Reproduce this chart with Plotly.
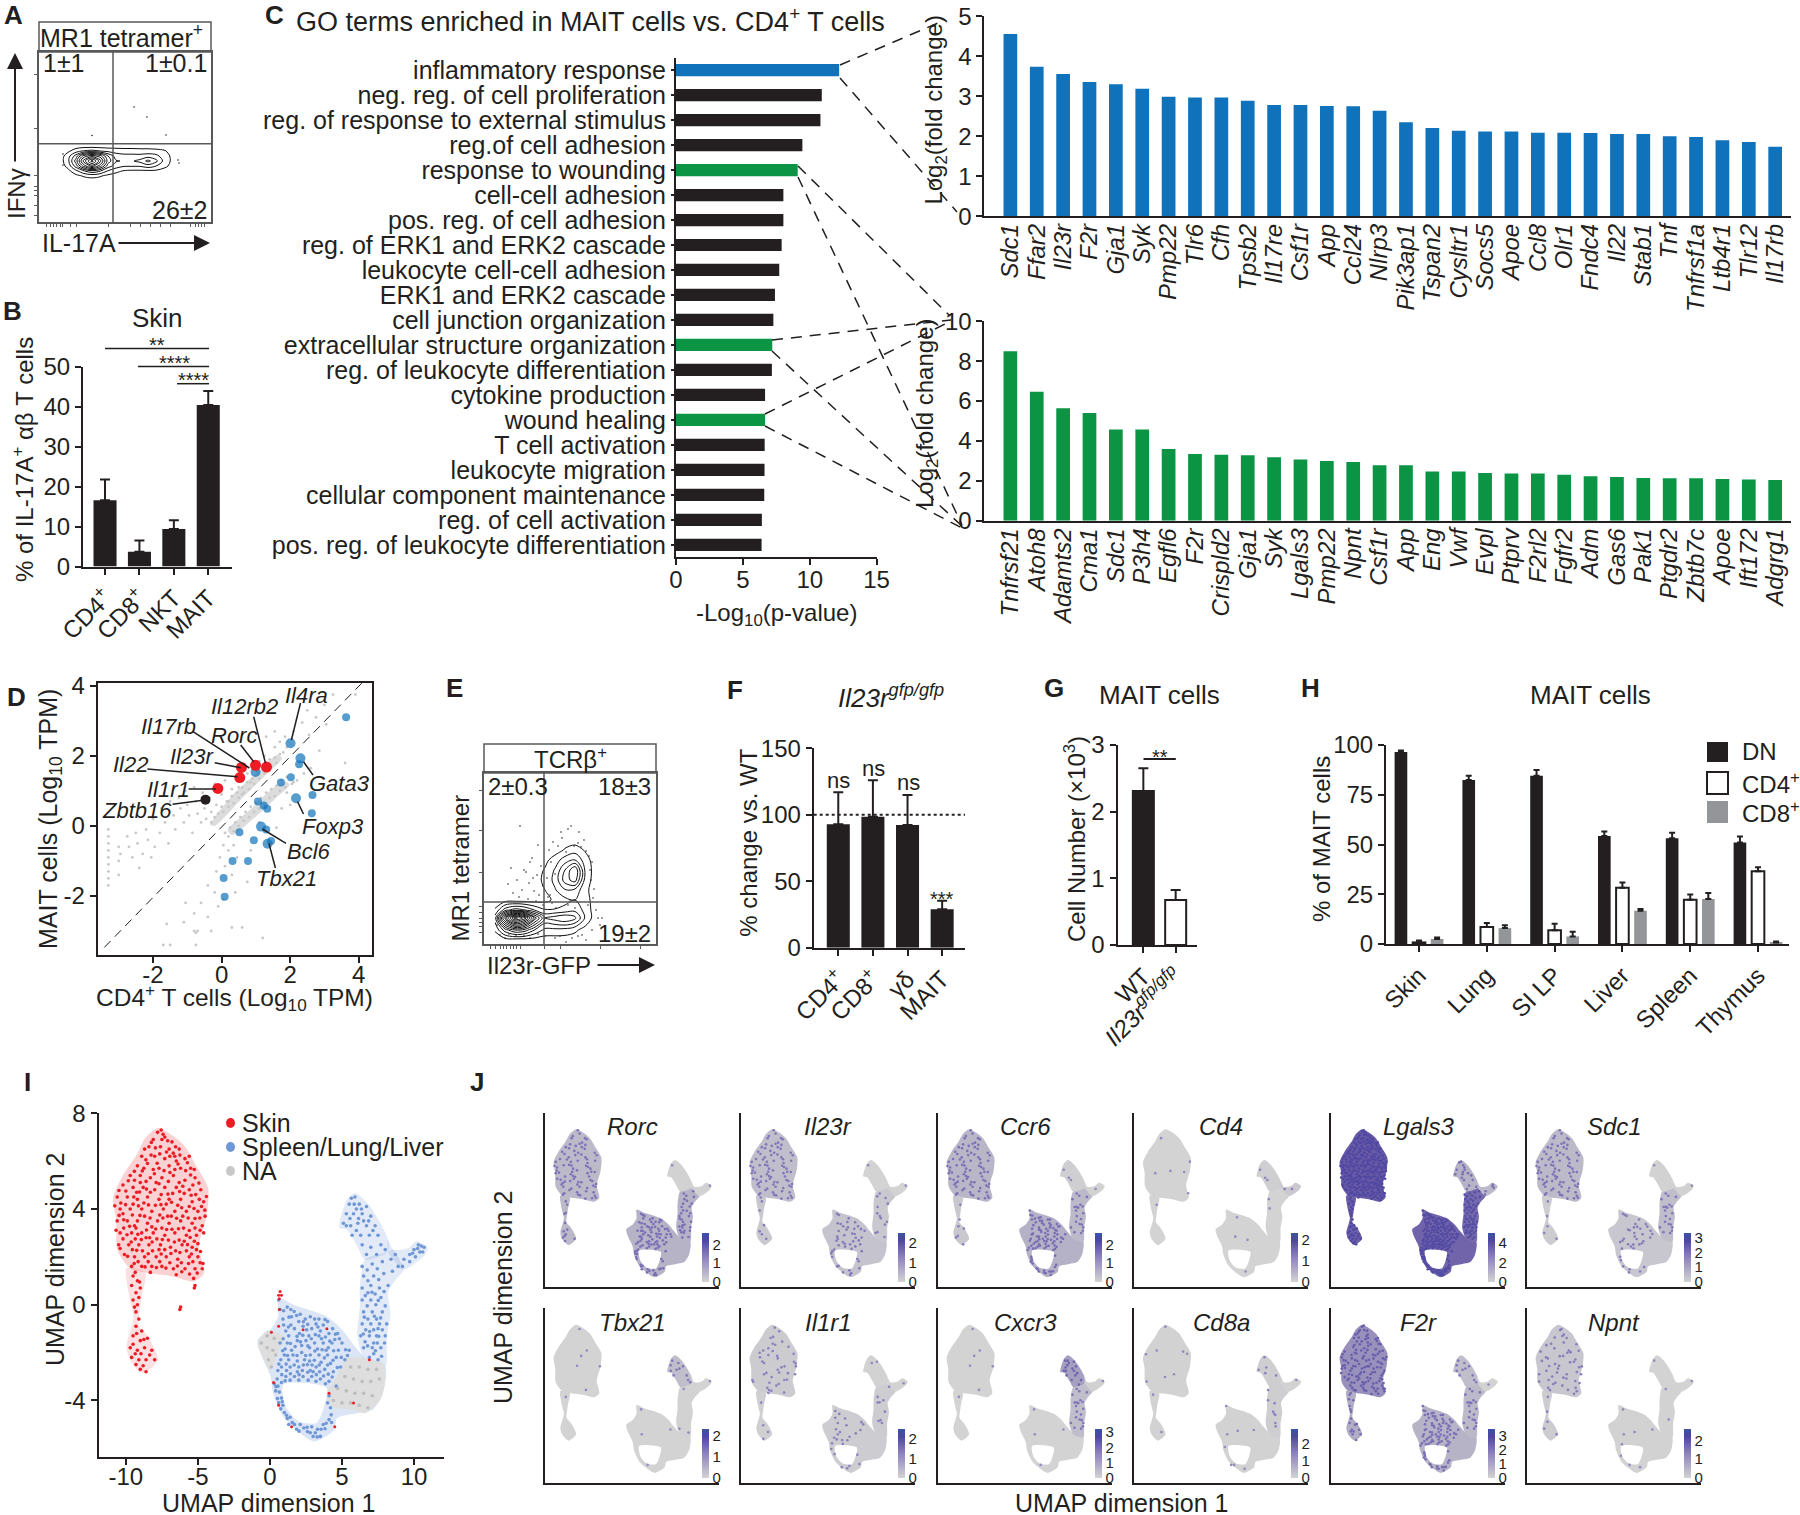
import plotly.graph_objects as go

W, H = 1800, 1515
FONT = "Liberation Sans"
INK = "#231f20"
BLUE = "#1072bb"
GREEN = "#0b9444"
RED = "#ed1c24"
UBLUE = "#6f97d6"
GRAY = "#c8c8c8"
GATE = "#58595b"

# ---------------- Panel A / E flow data (arbitrary flow units)
a_x = [60, 68, 76, 84, 92, 100, 108, 116, 124, 132, 140, 148, 156, 164, 172, 180]
a_y = [146, 151, 156, 161, 166, 171, 176, 181]
a_z = [
    [0] * 16,
    [0, .3, 1, 1.6, 1.8, 1.5, 1.2, 1.1, 1.0, 1.0, .9, .9, .8, .6, .2, 0],
    [0, 1, 3, 6, 7, 6, 3.5, 2, 1.8, 1.8, 1.8, 2, 1.8, 1, .3, 0],
    [0, 1.2, 4, 8, 11, 8, 4, 2.6, 2.4, 2.4, 2.8, 3.8, 2.8, 1.2, .3, 0],
    [0, .8, 3, 6, 8, 6, 3, 2, 1.6, 1.6, 1.6, 2, 1.5, .8, .2, 0],
    [0, .2, 1.2, 2.4, 3.2, 2.6, 1.4, .8, .4, .3, .3, .3, .3, .1, 0, 0],
    [0, 0, .2, .6, .8, .6, .2, 0, 0, 0, 0, 0, 0, 0, 0, 0],
    [0] * 16,
]
a_dot_x = [134, 147, 166, 92, 63, 63, 178, 179]
a_dot_y = [107, 117, 135, 135.5, 154, 165, 160, 163]

e_x = [495, 505, 515, 525, 535, 545, 555, 565, 575, 585, 595]
e_y = [840, 850, 860, 870, 880, 890, 900, 910, 918, 930, 940]
e_z = [
    [0] * 11,
    [0, 0, 0, 0, 0, 0, 0, .6, 1, .4, 0],
    [0, 0, 0, 0, 0, .2, 1, 2, 2.5, 1, 0],
    [0, 0, 0, 0, 0, .6, 1.6, 3.5, 5.5, 1.4, 0],
    [0, 0, 0, 0, 0, .8, 1.8, 4, 5, 1.2, 0],
    [0, 0, 0, 0, 0, .5, 1.4, 2.4, 2.2, .8, 0],
    [0, 0, 0, 0, 0, .2, .7, 1.2, 1.5, 1, 0],
    [.6, 3, 4, 3.5, 2.4, 1.6, 1.6, 1.8, 2.2, 1.2, 0],
    [2, 9, 14, 12, 7, 3.5, 4, 4.5, 3.8, 1.4, 0],
    [.6, 3, 4.5, 4, 2.4, 1.2, 1.2, 1.1, .7, .1, 0],
    [0] * 11,
]
e_dot_x = [520, 530, 538, 511, 517, 526, 533, 541, 508, 522, 529, 537, 513, 519, 534, 543, 528, 539, 524, 532,
           549, 553, 558, 566, 574, 581, 586, 589, 592, 551, 562, 571, 579, 590, 547, 555, 578, 584, 591, 594,
           561, 568, 550, 593, 588, 596, 598, 560, 572, 582, 505, 500, 497, 592, 600, 602, 586, 578, 566, 555,
           545, 538, 530, 524, 516, 509, 568, 556, 575, 548, 570, 577, 552, 543, 536]
e_dot_y = [826, 862, 845, 868, 880, 872, 878, 866, 884, 890, 883, 875, 893, 897, 891, 886, 899, 895, 870, 858,
           850, 842, 846, 852, 846, 847, 851, 856, 862, 862, 838, 826, 832, 870, 878, 874, 843, 840, 880, 889,
           832, 829, 895, 898, 905, 910, 918, 936, 938, 935, 938, 935, 925, 930, 925, 918, 940, 936, 942, 938,
           936, 934, 938, 936, 936, 934, 905, 908, 908, 897, 900, 902, 903, 905, 901]

# ---------------- Panel B
b_labels = ["CD4<sup>+</sup>", "CD8<sup>+</sup>", "NKT", "MAIT"]
b_values = [16.6, 3.7, 9.4, 40.5]
b_errors = [5.2, 2.8, 2.2, 3.5]

# ---------------- Panel C
go_terms = ["inflammatory response", "neg. reg. of cell proliferation", "reg. of response to external stimulus",
            "reg.of cell adhesion", "response to wounding", "cell-cell adhesion", "pos. reg. of cell adhesion",
            "reg. of ERK1 and ERK2 cascade", "leukocyte cell-cell adhesion", "ERK1 and ERK2 cascade",
            "cell junction organization", "extracellular structure organization",
            "reg. of leukocyte differentiation", "cytokine production", "wound healing", "T cell activation",
            "leukocyte migration", "cellular component maintenance", "reg. of cell activation",
            "pos. reg. of leukocyte differentiation"]
go_values = [12.2, 10.9, 10.8, 9.45, 9.1, 8.03, 8.03, 7.9, 7.72, 7.4, 7.28, 7.2, 7.17, 6.66, 6.66, 6.63, 6.62, 6.6,
             6.42, 6.4]
go_blue_terms = ["inflammatory response"]
go_green_terms = ["response to wounding", "extracellular structure organization", "wound healing"]

top_genes = ["Sdc1", "Ffar2", "Il23r", "F2r", "Gja1", "Syk", "Pmp22", "Tlr6", "Cfh", "Tpsb2", "Il17re", "Csf1r", "App",
             "Ccl24", "Nlrp3", "Pik3ap1", "Tspan2", "Cysltr1", "Socs5", "Apoe", "Ccl8", "Olr1", "Fndc4", "Il22",
             "Stab1", "Tnf", "Tnfrsf1a", "Ltb4r1", "Tlr12", "Il17rb"]
top_values = [4.56, 3.74, 3.56, 3.36, 3.3, 3.19, 2.99, 2.97, 2.97, 2.89, 2.78, 2.78, 2.76, 2.75, 2.64, 2.35, 2.21,
              2.14, 2.12, 2.12, 2.09, 2.09, 2.08, 2.06, 2.06, 2.0, 1.98, 1.9, 1.86, 1.74]
bot_genes = ["Tnfrsf21", "Atoh8", "Adamts2", "Cma1", "Sdc1", "P3h4", "Egfl6", "F2r", "Crispld2", "Gja1", "Syk",
             "Lgals3", "Pmp22", "Npnt", "Csf1r", "App", "Eng", "Vwf", "Evpl", "Ptprv", "F2rl2", "Fgfr2", "Adm", "Gas6",
             "Pak1", "Ptgdr2", "Zbtb7c", "Apoe", "Ift172", "Adgrg1"]
bot_values = [8.5, 6.46, 5.64, 5.4, 4.58, 4.58, 3.6, 3.35, 3.31, 3.29, 3.19, 3.07, 2.99, 2.94, 2.78, 2.78, 2.47, 2.47,
              2.39, 2.37, 2.37, 2.31, 2.23, 2.19, 2.15, 2.13, 2.13, 2.1, 2.07, 2.05]

# ---------------- Panel D
d_blue = [(3.63, 3.10), (2.01, 2.36), (2.30, 1.93), (2.26, 1.76), (2.02, 1.39), (1.73, 1.24), (.99, 1.54), (2.65, .88),
          (2.17, .79), (2.63, .36), (1.06, .70), (1.23, .58), (1.33, .49), (1.15, -.02), (1.30, -.10), (.52, -.18),
          (.94, -.41), (1.44, -.43), (1.34, -.51), (.32, -1.0), (.77, -1.0), (.06, -1.49), (.09, -2.02)]
d_blue_size = [8, 10, 10, 8, 8, 8, 10, 8, 10, 8, 8, 8, 8, 10, 8, 8, 8, 8, 10, 8, 8, 8, 8]
d_red = [(.58, 1.67), (.99, 1.73), (1.31, 1.68), (.53, 1.38), (-.11, 1.07)]
d_black = [(-.47, .75)]
d_band_up = [(-.33, .03), (.37, .93), (1.13, 1.6), (1.63, 2.03), (1.76, 1.93), (1.25, 1.42), (.56, .75), (-.2, 0)]
d_band_lo = [(.18, -.11), (.87, .5), (1.5, 1.08), (1.88, 1.27), (1.98, 1.17), (1.63, .84), (1.0, .27), (.3, -.26)]
d_band_dots = [(-.3, .1), (-.2, .25), (-.1, .35), (.0, .55), (.05, .4), (.15, .7), (.2, .55), (.3, .85), (.35, .65),
               (.45, .95), (.5, .8), (.6, 1.1), (.65, .95), (.75, 1.25), (.8, 1.05), (.9, 1.35), (.95, 1.2),
               (1.05, 1.55), (1.1, 1.35), (1.2, 1.65), (1.25, 1.5), (1.35, 1.75), (1.45, 1.7), (1.55, 1.95),
               (1.6, 1.8), (1.7, 2.05), (1.8, 2.1), (1.9, 2.25),
               (.1, -.2), (.25, -.05), (.2, -.3), (.4, .1), (.35, -.15), (.55, .25), (.5, 0), (.7, .4), (.65, .15),
               (.85, .55), (.8, .25), (1.0, .65), (.95, .4), (1.15, .8), (1.1, .5), (1.3, .95), (1.25, .65),
               (1.45, 1.05), (1.4, .8), (1.6, 1.15), (1.55, .85), (1.75, 1.3), (1.7, 1.0), (1.9, 1.4), (1.85, 1.1),
               (2.05, 1.2), (2.2, 1.3)]
d_gray = [(-3.3, -.1), (-3.3, -.3), (-3.3, -.5), (-3.3, -.7), (-3.3, -.9), (-3.3, -1.1), (-3.3, -1.3), (-3.3, -1.5),
          (-3.3, -1.7), (-3.0, -.6), (-3.0, -1.0), (-3.0, -1.4), (-2.95, -.8), (-2.75, -.3), (-2.7, -.6), (-2.6, -.9),
          (-2.5, -.2), (-2.45, -.5), (-2.4, -1.2), (-2.3, -.8), (-2.2, -.1), (-2.15, -.4), (-2.05, -.9), (-2.0, .2),
          (-1.95, -.6), (-1.8, -.2), (-1.75, .5), (-1.65, .1), (-1.55, -.5), (-1.5, .7), (-1.4, .3), (-1.35, -.1),
          (-1.25, .8), (-1.2, .5), (-1.1, .1), (-1.05, 1.0), (-1.0, .6), (-.95, .3), (-.85, -.2), (-.8, 1.1),
          (-.75, .7), (-.7, .35), (-.6, .1), (-.55, .95), (-.5, .5), (-.45, .2), (-.35, .8), (-.3, .4),
          (-.2, 1.2), (-.15, .6), (0, .9), (.1, 1.3), (.2, .7), (.3, 1.05), (.5, 1.1), (.6, .9), (.75, 1.5),
          (.85, 1.25), (1.1, 1.85), (1.25, 2.0), (1.4, 1.9), (1.55, 2.25), (1.7, 2.4), (1.3, 2.55), (1.55, 2.7),
          (1.85, 2.55), (2.1, 2.7), (2.35, 2.95), (2.55, 2.6), (2.75, 3.1), (3.0, 3.45), (3.25, 3.75), (3.9, 3.75),
          (3.05, 2.9), (2.5, 3.3),
          (.05, -.55), (-.05, -.9), (.2, -.7), (.35, -.55), (.45, -.9), (-.15, -1.3), (.1, -1.15), (.3, -1.4),
          (-.4, -1.7), (-.2, -1.9), (-.1, -2.3), (.05, -2.1), (-.6, -2.2), (-.8, -2.5), (-1.05, -2.2), (-1.1, -2.75),
          (-.8, -3.0), (-.75, -3.05), (-.7, -3.0), (-.3, -3.0), (.3, -2.9), (.6, -2.9), (1.2, -3.2), (-1.7, -3.4),
          (-1.5, -3.4), (-.75, -3.4), (-1.6, -2.8), (-.4, -2.6), (.4, -1.9), (.75, -1.6), (.85, -.7), (1.6, -.05),
          (1.1, .1), (1.75, .5), (2.0, .6), (2.1, 1.25), (2.4, 1.5), (2.6, 1.65), (1.9, .95), (2.85, 2.15), (3.6, 1.8)]

# ---------------- Panel F, G, H
f_labels = ["CD4<sup>+</sup>", "CD8<sup>+</sup>", "γδ", "MAIT"]
f_values = [92.8, 98.6, 92.3, 29.0]
f_errors = [24.1, 27.4, 22.6, 6.4]
g_labels = ["WT", "<i>Il23r<sup>gfp/gfp</sup></i>"]
g_values = [2.31, .675]
g_errors = [.34, .15]
h_tissues = ["Skin", "Lung", "SI LP", "Liver", "Spleen", "Thymus"]
h_dn = [96.5, 82.4, 84.6, 54.3, 53.2, 51.0]
h_dn_err = [.7, 2.2, 2.9, 2.2, 2.7, 3.0]
h_cd4 = [.8, 8.5, 6.9, 28.3, 22.2, 36.6]
h_cd4_err = [.9, 2.0, 3.3, 2.6, 2.7, 2.0]
h_cd8 = [2.5, 8.0, 3.8, 16.7, 22.6, .8]
h_cd8_err = [.8, 1.4, 2.4, .9, 3.0, .4]

# ---------------- Panel I / J: UMAP outlines
um_skin = [(-7.77, 7.38), (-6.52, 6.96), (-5.82, 6.55), (-5.11, 5.79), (-4.29, 4.87), (-4.40, 3.69), (-4.93, 2.44),
           (-4.57, 1.32), (-5.28, .97), (-6.70, 1.18), (-8.48, 1.32), (-9.72, 1.53), (-10.6, 2.3), (-10.67, 3.55),
           (-10.89, 4.46), (-10.25, 5.36), (-9.18, 6.34), (-8.65, 6.96)]
um_tail = [(-9.96, 1.53), (-8.65, 1.32), (-8.9, .35), (-9.0, -.14), (-9.11, -.84), (-8.48, -1.32), (-7.77, -2.30),
           (-8.83, -2.86), (-9.72, -2.30), (-9.96, -1.75), (-9.61, -.91), (-9.47, -.49), (-9.72, .21)]
um_body = [(.57, .28), (1.63, 0), (3.94, -.49), (5.0, -1.04), (5.71, -1.6), (6.77, -2.3), (8.01, -2.58), (7.84, -3.69),
           (7.13, -4.39), (6.06, -4.53), (4.65, -4.74), (4.47, -5.22), (3.05, -5.71), (1.81, -5.22), (.92, -4.67),
           (.21, -3.69), (.04, -2.99), (-.67, -2.02), (-.85, -1.46), (.04, -1.04), (.57, -.49)]
um_hole = [(.92, -3.34), (2.52, -3.27), (3.94, -3.48), (3.76, -4.25), (3.23, -4.94), (1.99, -4.87), (1.1, -4.25)]
um_stem = [(6.6, -2.3), (6.06, -1.32), (6.24, -.07), (6.24, .77), (6.6, 1.88), (8.19, 2.2), (8.55, 2.3), (9.26, 1.46),
           (8.72, 1.04), (8.19, .49), (8.37, -.35), (8.12, -1.32), (8.01, -2.58)]
um_top = [(6.6, 1.88), (6.06, 2.44), (5.35, 3.13), (4.82, 3.2), (5.35, 4.39), (5.89, 4.67), (6.77, 4.25), (7.66, 3.41),
          (8.19, 2.72), (8.19, 2.2)]
um_branch = [(8.19, 2.2), (8.19, 2.72), (8.55, 2.3), (9.61, 2.37), (10.14, 2.65), (10.96, 2.37), (10.67, 2.02),
             (9.26, 1.46), (8.55, 1.9)]
um_gray_left = [(-.85, -1.6), (-.14, -1.07), (.92, -1.32), (.57, -2.02), (.04, -2.72), (-.5, -2.16)]
um_gray_right = [(5.35, -2.23), (7.84, -2.44), (8.01, -3.13), (7.66, -3.97), (6.6, -4.53), (5.71, -4.39), (4.29, -4.25),
                 (3.94, -3.69), (4.65, -2.99)]

dots_skin = [(-7.8, 7.2), (-7.3, 7.0), (-8.1, 6.9), (-6.8, 6.8), (-8.4, 6.6), (-7.6, 6.6), (-7.0, 6.5), (-6.3, 6.5),
             (-8.9, 6.2), (-8.0, 6.2), (-7.3, 6.1), (-6.6, 6.2), (-5.9, 6.1), (-9.2, 5.8), (-8.5, 5.9), (-7.7, 5.7),
             (-7.0, 5.8), (-6.2, 5.7), (-5.5, 5.7), (-9.7, 5.4), (-9.0, 5.4), (-8.3, 5.3), (-7.5, 5.3), (-6.7, 5.4),
             (-5.9, 5.2), (-5.2, 5.3), (-10.2, 5.0), (-9.5, 4.9), (-8.8, 4.9), (-8.0, 4.8), (-7.3, 4.9), (-6.5, 4.9),
             (-5.6, 4.8), (-4.8, 4.8), (-10.6, 4.5), (-9.9, 4.5), (-9.2, 4.4), (-8.5, 4.5), (-7.7, 4.4), (-7.0, 4.4),
             (-6.2, 4.4), (-5.4, 4.3), (-4.6, 4.3), (-10.4, 4.0), (-9.7, 4.0), (-8.9, 4.0), (-8.2, 3.9), (-7.4, 4.0),
             (-6.6, 3.9), (-5.8, 3.9), (-5.0, 3.9), (-4.5, 3.7), (-10.6, 3.5), (-9.9, 3.5), (-9.2, 3.5), (-8.5, 3.4),
             (-7.8, 3.5), (-7.0, 3.4), (-6.2, 3.5), (-5.4, 3.4), (-4.7, 3.3), (-10.4, 3.0), (-9.6, 3.0), (-8.9, 3.0),
             (-8.1, 3.0), (-7.3, 2.9), (-6.6, 3.0), (-5.8, 2.9), (-5.1, 2.9), (-10.5, 2.5), (-9.8, 2.5), (-9.1, 2.5),
             (-8.4, 2.5), (-7.6, 2.5), (-6.9, 2.4), (-6.1, 2.5), (-5.4, 2.4), (-10.1, 2.1), (-9.4, 2.0), (-8.7, 2.0),
             (-7.9, 2.0), (-7.2, 2.0), (-6.4, 1.9), (-5.6, 2.0), (-5.0, 2.0), (-9.6, 1.6), (-8.9, 1.6), (-8.2, 1.6),
             (-7.5, 1.6), (-6.7, 1.5), (-5.9, 1.5), (-5.2, 1.5), (-4.7, 1.5), (-8.3, 1.35), (-6.5, 1.25), (-5.3, 1.1),
             (-7.5, 6.9), (-6.5, 6.0), (-8.7, 6.5), (-9.0, 5.1), (-7.9, 5.1), (-6.3, 5.1), (-4.9, 4.4), (-9.5, 4.2),
             (-7.1, 3.7), (-5.6, 3.1), (-8.6, 2.8), (-6.3, 2.7), (-7.7, 2.3), (-9.3, 3.2), (-10.2, 3.8), (-4.6, 3.0),
             (-7.55, 7.3), (-7.95, 6.55), (-7.1, 6.85), (-6.55, 6.6), (-8.25, 6.25), (-7.65, 6.3), (-6.95, 6.2),
             (-6.25, 6.25), (-5.6, 6.2), (-8.75, 5.7), (-8.1, 5.65), (-7.35, 5.6), (-6.6, 5.65), (-5.85, 5.6),
             (-5.25, 5.65), (-9.4, 5.2), (-8.6, 5.15), (-7.7, 5.05), (-7.05, 5.15), (-6.05, 4.95), (-5.35, 5.0),
             (-10.0, 4.75), (-9.25, 4.7), (-8.3, 4.7), (-7.55, 4.6), (-6.75, 4.65), (-5.95, 4.65), (-5.15, 4.6),
             (-10.35, 4.25), (-9.45, 4.5), (-8.75, 4.25), (-7.95, 4.15), (-7.2, 4.2), (-6.4, 4.15), (-5.6, 4.1),
             (-4.75, 4.1), (-10.15, 3.55), (-9.55, 3.75), (-8.7, 3.7), (-7.65, 3.75), (-6.85, 3.7), (-6.05, 3.7),
             (-5.2, 3.6), (-10.15, 3.2), (-9.4, 3.3), (-8.2, 3.25), (-7.5, 3.2), (-6.8, 3.15), (-6.0, 3.2), (-5.2, 3.2),
             (-10.2, 2.75), (-9.35, 2.75), (-8.35, 2.8), (-7.85, 2.75), (-7.05, 2.7), (-5.95, 2.65), (-5.25, 2.65),
             (-9.55, 2.3), (-8.85, 2.25), (-8.15, 2.25), (-7.3, 2.3), (-6.55, 2.25), (-5.8, 2.25), (-5.1, 2.3),
             (-9.15, 1.8), (-8.45, 1.8), (-7.65, 1.8), (-6.95, 1.75), (-6.15, 1.75), (-5.35, 1.8), (-4.85, 1.75),
             (-7.42, 7.12), (-8.23, 6.78), (-6.71, 6.33), (-7.18, 6.38), (-8.61, 6.05), (-5.73, 5.93), (-6.38, 5.88),
             (-7.83, 5.91), (-9.41, 5.57), (-8.86, 5.59), (-8.02, 5.47), (-6.94, 5.52), (-5.51, 5.42), (-4.93, 5.08),
             (-9.83, 5.18), (-10.48, 4.77), (-9.05, 4.71), (-8.57, 4.83), (-7.08, 4.62), (-6.27, 4.73), (-5.47, 4.57),
             (-4.41, 4.52), (-10.77, 4.13), (-10.02, 4.18), (-9.13, 4.13), (-8.43, 4.17), (-7.57, 4.18), (-6.83, 4.28),
             (-6.13, 4.05), (-5.27, 4.02), (-4.52, 3.95), (-10.47, 3.73), (-9.74, 3.28), (-9.02, 3.73), (-8.32, 3.62),
             (-7.43, 3.62), (-6.48, 3.61), (-5.68, 3.62), (-4.87, 3.62), (-10.68, 3.11), (-9.92, 2.92), (-9.17, 2.94),
             (-8.57, 3.12), (-7.93, 3.16), (-7.17, 3.14), (-6.35, 3.17), (-5.54, 2.81), (-4.85, 3.11), (-10.4, 2.35),
             (-9.63, 2.62), (-8.93, 2.72), (-8.18, 2.62), (-7.47, 2.72), (-6.63, 2.62), (-5.72, 2.51), (-5.0, 2.55),
             (-9.88, 2.02), (-9.25, 2.27), (-8.45, 2.13), (-7.55, 2.12), (-6.87, 2.14), (-6.25, 2.18), (-5.45, 2.12),
             (-4.82, 2.22), (-9.42, 1.72), (-8.67, 1.58), (-7.88, 1.55), (-7.22, 1.53), (-6.42, 1.62), (-5.65, 1.72),
             (-5.05, 1.32), (-4.65, 1.72), (-6.12, 1.38), (-5.58, 1.28)]
dots_tail = [(-9.5, 1.2), (-9.2, 1.0), (-9.6, .8), (-9.3, .5), (-9.0, .7), (-9.1, .3), (-9.5, .2), (-9.2, 0),
             (-9.3, -.3), (-9.1, -.6), (-9.3, -.9), (-8.9, -1.1), (-9.5, -1.3), (-9.0, -1.5), (-8.5, -1.4),
             (-9.7, -1.8), (-9.2, -1.9), (-8.7, -1.8), (-8.2, -1.9), (-9.6, -2.2), (-9.1, -2.3), (-8.6, -2.3),
             (-8.0, -2.3), (-9.0, -2.7), (-8.6, -2.8), (-9.3, -2.5), (-9.35, 1.35), (-9.05, .95), (-9.4, -.1),
             (-9.25, -1.2), (-8.75, -1.45), (-9.5, -1.65), (-8.95, -2.05), (-8.35, -2.1), (-9.35, -2.05), (-8.8, -2.55)]
dots_body = [(.6, .2), (1.2, -.1), (.9, -.6), (1.5, -.5), (2.1, -.4), (2.8, -.5), (3.4, -.6), (4.0, -.7), (1.1, -1.1),
             (1.7, -1.0), (2.3, -.9), (2.9, -1.0), (3.5, -1.1), (4.1, -1.2), (4.7, -1.2), (1.2, -1.6), (1.9, -1.5),
             (2.5, -1.5), (3.1, -1.6), (3.7, -1.6), (4.3, -1.6), (5.0, -1.6), (5.5, -1.9), (1.0, -2.1), (1.6, -2.1),
             (2.2, -2.0), (2.8, -2.1), (3.4, -2.1), (4.0, -2.1), (4.6, -2.2), (5.2, -2.3), (.8, -2.6), (1.4, -2.6),
             (2.0, -2.6), (2.6, -2.5), (3.2, -2.6), (3.8, -2.7), (4.4, -2.8), (.5, -3.1), (1.1, -3.0), (1.7, -3.0),
             (2.3, -3.0), (2.9, -3.0), (3.5, -3.1), (4.1, -3.2), (.4, -3.6), (.8, -3.9), (.6, -4.1), (1.0, -4.5),
             (1.4, -4.7), (1.7, -5.0), (2.1, -5.0), (2.6, -5.3), (3.0, -5.5), (3.3, -5.2), (3.7, -5.0), (4.1, -4.8),
             (4.2, -4.3), (4.1, -3.8), (1.3, -1.3), (2.0, -.7), (2.7, -1.3), (3.4, -1.3), (1.5, -1.9), (2.4, -2.3),
             (3.0, -2.8), (1.9, -2.8), (.7, -1.6), (.7, -.2), (4.6, -3.4), (4.9, -2.6), (3.9, -1.9), (.3, -3.3),
             (2.9, -5.1), (3.5, -5.5), (1.3, -5.0), (.9, -4.2), (.55, -3.4), (2.2, -1.7), (3.2, -.8),
             (.95, -.25), (1.45, -.2), (1.85, -.45), (2.45, -.6), (3.1, -.6), (3.7, -.85), (4.35, -1.0), (.95, -.85),
             (1.45, -.85), (2.05, -1.2), (2.55, -1.05), (3.15, -1.25), (3.85, -1.35), (4.5, -1.45), (1.05, -1.85),
             (1.75, -1.75), (2.75, -1.8), (3.3, -1.85), (4.05, -1.8), (4.75, -1.9), (.75, -2.3), (1.3, -2.3), (1.9, -2.35),
             (2.75, -2.35), (3.55, -2.4), (4.2, -2.45), (4.95, -2.2), (.55, -2.75), (1.15, -2.75), (2.25, -2.75),
             (2.8, -2.75), (3.45, -2.8), (4.05, -2.9), (.8, -3.25), (1.4, -3.15), (2.0, -3.15), (2.65, -3.15),
             (3.2, -3.2), (3.85, -3.3), (.65, -3.65), (.75, -4.35), (1.2, -4.75), (1.85, -5.2), (2.35, -5.15),
             (2.8, -5.35), (3.15, -5.35), (3.55, -5.2), (3.9, -4.95), (4.25, -4.6), (4.0, -4.1),
             (1.32, -.52), (1.68, -.28), (2.32, -.71), (2.62, -.82), (3.33, -.93), (3.82, -.62), (4.55, -1.23),
             (1.28, -.93), (1.88, -1.32), (2.28, -1.28), (2.87, -1.42), (3.58, -1.42), (4.15, -1.52), (4.82, -1.42),
             (.92, -1.42), (1.42, -1.62), (2.12, -1.55), (2.63, -1.72), (3.12, -1.93), (3.62, -1.88), (4.42, -1.92),
             (5.25, -1.88), (.88, -1.92), (1.22, -2.12), (1.88, -2.12), (2.48, -2.12), (3.08, -2.32), (3.78, -2.22),
             (4.38, -2.32), (5.38, -2.12), (.62, -2.48), (1.12, -2.48), (1.68, -2.52), (2.32, -2.52), (2.92, -2.52),
             (3.42, -2.52), (4.0, -2.52), (4.68, -2.62), (.82, -2.92), (1.42, -2.88), (2.02, -2.92), (2.62, -2.82),
             (3.22, -2.92), (3.72, -2.98), (4.32, -3.02), (.42, -3.42), (1.05, -3.18), (.52, -3.92), (.85, -4.05),
             (1.15, -4.62), (1.55, -4.92), (2.02, -5.28), (2.58, -5.12), (3.28, -5.52), (3.82, -5.18), (4.28, -4.92)]
dots_stem = [(6.4, 1.6), (7.1, 1.7), (7.8, 1.8), (8.4, 1.9), (6.5, 1.2), (7.2, 1.2), (7.9, 1.3), (8.5, 1.4),
             (6.4, .7), (7.0, .8), (7.6, .7), (8.2, .8), (6.4, .2), (7.0, .2), (7.7, .3), (6.5, -.3), (7.1, -.3),
             (7.8, -.3), (6.4, -.8), (7.0, -.8), (7.6, -.8), (8.1, -.8), (6.3, -1.3), (6.9, -1.3), (7.4, -1.3),
             (8.0, -1.3), (6.5, -1.8), (7.1, -1.8), (7.7, -1.8), (6.9, -2.2), (7.5, -2.3), (6.8, .5), (7.4, -.6),
             (7.2, -1.6), (7.5, -1.0), (6.8, -.6), (6.75, 1.45), (7.45, 1.5), (6.8, 1.0), (7.55, 1.05), (7.3, .45),
             (6.75, -.05), (7.35, 0), (8.0, -.05), (6.65, -1.05), (7.2, -1.05), (7.8, -1.05), (6.6, -1.55), (7.45, -1.6),
             (7.95, -1.6), (7.2, -2.05), (7.75, -2.15), (7.08, .52), (7.52, .18), (6.62, .38), (7.92, .55), (7.25, -.48),
             (6.55, -.52), (7.68, -.55), (6.92, -1.12), (7.55, -1.32), (6.78, -1.72), (7.32, -1.92), (6.48, -1.22)]
dots_top = [(5.9, 4.5), (5.5, 4.2), (6.2, 4.2), (6.7, 4.1), (5.3, 3.8), (5.8, 3.8), (6.4, 3.8), (7.0, 3.7), (5.1, 3.4),
            (5.6, 3.3), (6.1, 3.4), (6.7, 3.3), (7.3, 3.3), (5.7, 2.9), (6.3, 2.9), (6.9, 2.9), (7.5, 2.9), (6.4, 2.5),
            (7.0, 2.4), (7.7, 2.5), (6.7, 2.1), (7.4, 2.1), (8.0, 2.3), (6.0, 4.0), (6.0, 3.1), (6.5, 3.5),
            (5.65, 4.45), (5.85, 4.2), (6.35, 4.0), (5.55, 3.6), (6.85, 3.5), (5.3, 3.3), (6.15, 3.6), (7.15, 3.1)]
dots_branch = [(10.3, 2.5), (10.7, 2.4), (10.0, 2.3), (10.4, 2.2), (9.7, 2.1), (10.1, 2.0), (9.3, 1.9), (9.7, 1.8),
               (8.9, 1.6), (9.2, 1.6), (8.7, 2.1), (10.6, 2.2), (10.25, 2.35), (10.5, 2.45), (9.9, 2.15)]
dots_gray = [(-.6, -1.6), (-.2, -1.3), (.3, -1.4), (-.2, -1.8), (.2, -1.9), (-.1, -2.3), (.4, -2.1), (.1, -2.6),
             (5.6, -2.6), (6.2, -2.6), (6.8, -2.7), (7.4, -2.7), (5.2, -3.0), (5.8, -3.1), (6.4, -3.2), (7.0, -3.2),
             (7.6, -3.1), (4.7, -3.5), (5.3, -3.6), (5.9, -3.7), (6.5, -3.7), (7.1, -3.8), (4.4, -4.0), (5.0, -4.1),
             (5.6, -4.1), (6.2, -4.2), (6.8, -4.3)]
dots_red_extra = [(.7, .55), (.6, .4), (.8, .4), (.65, .25), (.65, -.2), (.6, -.9), (.1, -1.15), (2.3, -1.05),
                  (3.95, -1.0), (6.9, -2.3), (.25, -3.25), (4.1, -3.7), (5.8, -4.1), (.6, -4.2), (1.5, -5.1), (4.5, -5.1)]
dots_skin_extra = [(-6.2, -.1), (-6.25, -.2), (-5.2, .8), (-5.25, .7)]

# Region levels per gene: skin, tail, body, stem, top, branch
genes_row1 = ["Rorc", "Il23r", "Ccr6", "Cd4", "Lgals3", "Sdc1"]
genes_row2 = ["Tbx21", "Il1r1", "Cxcr3", "Cd8a", "F2r", "Npnt"]
gene_levels = {
    "Rorc": [.35, .35, .4, .4, .03, .05],
    "Il23r": [.3, .2, .25, .2, .02, .02],
    "Ccr6": [.38, .2, .42, .35, .1, .03],
    "Cd4": [.02, .02, .02, .02, .1, .18],
    "Lgals3": [.98, .95, .92, .88, .4, .35],
    "Sdc1": [.35, .15, .22, .3, .03, .03],
    "Tbx21": [.02, .02, .02, .04, .3, .02],
    "Il1r1": [.16, .1, .15, .15, .05, .02],
    "Cxcr3": [.02, .02, .02, .3, .55, .06],
    "Cd8a": [.03, .03, .04, .12, .12, .04],
    "F2r": [.65, .45, .4, .35, .3, .05],
    "Npnt": [.22, .15, .04, .03, .02, .02],
}
gene_cmax = {"Rorc": 2.6, "Il23r": 2.5, "Ccr6": 2.6, "Cd4": 2.3, "Lgals3": 5.0, "Sdc1": 3.3, "Tbx21": 2.3, "Il1r1": 2.5,
             "Cxcr3": 3.2, "Cd8a": 2.9, "F2r": 3.5, "Npnt": 2.6}
gene_ticks = {"Rorc": [0, 1, 2], "Il23r": [0, 1, 2], "Ccr6": [0, 1, 2], "Cd4": [0, 1, 2], "Lgals3": [0, 2, 4],
              "Sdc1": [0, 1, 2, 3], "Tbx21": [0, 1, 2], "Il1r1": [0, 1, 2], "Cxcr3": [0, 1, 2, 3], "Cd8a": [0, 1, 2],
              "F2r": [0, 1, 2, 3], "Npnt": [0, 1, 2]}
FEATURE_SCALE = [[0, "#d3d3d3"], [.5, "#8f82c0"], [.85, "#4d46a0"], [1, "#3a53a4"]]

# ================================================================= helpers
fig = go.Figure()
shapes, annots = [], []
axis_n = [0]


def fx(px):
    return px / W


def fy(py):
    return 1 - py / H


def axes(rect, xkw=None, ykw=None):
    axis_n[0] += 1
    n = axis_n[0]
    sfx = "" if n == 1 else str(n)
    x0, y0, x1, y1 = rect
    base = dict(showgrid=False, zeroline=False, showline=True, linecolor=INK, linewidth=2, ticks="outside", ticklen=6,
                tickwidth=2, tickcolor=INK, tickfont=dict(family=FONT, size=24, color=INK))
    xa = dict(base, domain=[fx(x0), fx(x1)], anchor="y" + sfx)
    ya = dict(base, domain=[fy(y1), fy(y0)], anchor="x" + sfx)
    xa.update(xkw or {})
    ya.update(ykw or {})
    fig.layout["xaxis" + sfx] = xa
    fig.layout["yaxis" + sfx] = ya
    return "x" + sfx, "y" + sfx


def T(px, py, text, size=24, angle=0, anchor="center", color=INK, bold=False):
    annots.append(dict(x=fx(px), y=fy(py), xref="paper", yref="paper", text=f"<b>{text}</b>" if bold else text,
                       showarrow=False, textangle=angle, xanchor=anchor, yanchor="middle",
                       font=dict(family=FONT, size=size, color=color)))


def L(x0, y0, x1, y1, color=INK, width=2, dash=None):
    shapes.append(dict(type="line", xref="paper", yref="paper", x0=fx(x0), y0=fy(y0), x1=fx(x1), y1=fy(y1),
                       line=dict(color=color, width=width, dash=dash), layer="above"))


def R(x0, y0, x1, y1, fill="rgba(0,0,0,0)", color=INK, width=2):
    shapes.append(dict(type="rect", xref="paper", yref="paper", x0=fx(x0), y0=fy(y0), x1=fx(x1), y1=fy(y1),
                       fillcolor=fill, line=dict(color=color, width=width)))


def ARROW(x0, y0, x1, y1):
    annots.append(dict(x=fx(x1), y=fy(y1), xref="paper", yref="paper", ax=x0 - x1, ay=y0 - y1, axref="pixel",
                       ayref="pixel", text="", showarrow=True, arrowhead=2, arrowsize=1.6, arrowwidth=2,
                       arrowcolor=INK))


def xs(pts):
    return [p[0] for p in pts]


def ys(pts):
    return [p[1] for p in pts]


def poly(pts, color, xa, ya):
    fig.add_trace(go.Scatter(x=xs(pts) + [pts[0][0]], y=ys(pts) + [pts[0][1]], mode="lines", fill="toself",
                             fillcolor=color, line=dict(width=0, color=color, shape="spline", smoothing=.7),
                             hoverinfo="skip", xaxis=xa, yaxis=ya))


def dots(pts, color, size, xa, ya):
    fig.add_trace(go.Scatter(x=xs(pts), y=ys(pts), mode="markers", marker=dict(color=color, size=size, line_width=0),
                             hoverinfo="skip", xaxis=xa, yaxis=ya))


def bars(xa, ya, labels, values, errors, colors, line=None):
    fig.add_trace(go.Bar(x=labels, y=values, marker=dict(color=colors, line=dict(color=INK, width=2 if line else 0)),
                         error_y=dict(type="data", array=errors, arrayminus=[0] * len(errors), symmetric=False,
                                      color=INK, thickness=2, width=5), xaxis=xa, yaxis=ya, hoverinfo="skip"))


def cat_axis(labels, **kw):
    return dict(categoryorder="array", categoryarray=labels, tickmode="array", tickvals=labels, ticktext=labels, **kw)


def num_axis(vals, rng, **kw):
    return dict(range=rng, tickmode="array", tickvals=vals, ticktext=[str(v) for v in vals], **kw)


def flow_panel(rect, cx, cy, cz, start, end, dx, dy, xticks, yticks):
    x0, y0, x1, y1 = rect
    tick = dict(linecolor=GATE, linewidth=1.5, mirror=True, ticklen=3, tickwidth=1, tickcolor=GATE, showticklabels=False)
    xa, ya = axes(rect, dict(tick, range=[x0, x1], tickvals=xticks), dict(tick, range=[y1, y0], tickvals=yticks))
    fig.add_trace(go.Contour(x=cx, y=cy, z=cz, contours=dict(coloring="none", start=start, end=end, size=1),
                             line=dict(color="#111111", width=1, smoothing=1), showscale=False, hoverinfo="skip",
                             xaxis=xa, yaxis=ya))
    fig.add_trace(go.Scatter(x=dx, y=dy, mode="markers", marker=dict(color="#222222", size=1.6, line_width=0),
                             hoverinfo="skip", xaxis=xa, yaxis=ya))
    return xa, ya


# ================================================================= Panel A
flow_panel((39, 52, 211, 222), a_x, a_y, a_z, .5, 11, a_dot_x, a_dot_y,
           [46, 50, 53, 56, 60, 62, 70, 76, 108, 130, 140, 150, 160, 170, 190, 195, 198, 201, 204],
           [74, 128, 175, 186, 190, 195, 205, 215])
R(39, 22, 211, 52, color=GATE, width=1.5)
L(113, 52, 113, 222, color=GATE, width=1.5)
L(39, 143.7, 211, 143.7, color=GATE, width=1.5)
T(121, 36, "MR1 tetramer<sup>+</sup>", 25)
T(41, 63, "1±1", 25, anchor="left")
T(209, 63, "1±0.1", 25, anchor="right")
T(209, 210, "26±2", 25, anchor="right")
T(16, 194, "IFNγ", 24, angle=-90)
ARROW(15, 163, 15, 53)
T(40, 243, "IL-17A", 25, anchor="left")
ARROW(117, 243, 210, 243)
T(13, 15, "A", 26, bold=True)

# ================================================================= Panel B
xa, ya = axes((83, 367, 232, 566.5), cat_axis(b_labels, range=[-.64, 3.69], tickangle=-45),
              num_axis([0, 10, 20, 30, 40, 50], [0, 50]))
bars(xa, ya, b_labels, b_values, b_errors, INK)
T(157, 318, "Skin", 26)
T(23, 460, "% of IL-17A<sup>+</sup> αβ T cells", 24, angle=-90)
L(105, 348.6, 209, 348.6, width=1.5)
L(138, 366.5, 209, 366.5, width=1.5)
L(177, 383.7, 209, 383.7, width=1.5)
T(157, 345, "**", 20)
T(174, 363, "****", 20)
T(193, 380, "****", 20)
T(12, 311, "B", 26, bold=True)

# ================================================================= Panel C
c_colors = [BLUE if t in go_blue_terms else GREEN if t in go_green_terms else INK for t in go_terms]
xa, ya = axes((676, 58.4, 876.6, 557), num_axis([0, 5, 10, 15], [0, 15], ticklabelstandoff=-6),
              cat_axis(go_terms, range=[19.49, -.47], ticklen=3, tickfont=dict(family=FONT, size=25, color=INK)))
fig.add_trace(go.Bar(x=go_values, y=go_terms, orientation="h", marker=dict(color=c_colors, line_width=0), xaxis=xa,
                     yaxis=ya, hoverinfo="skip"))
T(294, 20, "GO terms enriched in MAIT cells vs. CD4<sup>+</sup> T cells", 27, anchor="left")
T(274, 15, "C", 26, bold=True)
T(776.5, 614, "-Log<sub>10</sub>(p-value)", 24)
for seg in [(840, 65, 945, 20), (840, 78, 957, 212), (798, 166, 950, 316), (798, 177, 962, 525),
            (772, 340, 951, 320), (772, 351, 962, 526), (765, 414, 949, 322), (765, 426, 962, 528)]:
    L(*seg, width=1.5, dash="11px,8px")

# ================================================================= Top / bottom fold-change bars
for rect, genes, vals, color, ymax, yt, tx, ty in [
    ((984.4, 16.3, 1791, 216.3), top_genes, top_values, BLUE, 5, [0, 1, 2, 3, 4, 5], 935.6, 110),
    ((984.4, 321.2, 1791, 520.8), bot_genes, bot_values, GREEN, 10, [0, 2, 4, 6, 8, 10], 926, 414),
]:
    labels = [f"<i>{g}</i>" for g in genes]
    xa, ya = axes(rect, cat_axis(labels, range=[-.985, 29.6], tickangle=-90, ticklen=4, tickcolor="rgba(0,0,0,0)",
                                 ticklabelstandoff=-8),
                  num_axis(yt, [0, ymax]))
    fig.add_trace(go.Bar(x=labels, y=vals, marker=dict(color=color, line_width=0), xaxis=xa, yaxis=ya,
                         hoverinfo="skip"))
    T(tx, ty, "Log<sub>2</sub>(fold change)", 24, angle=-90)

# ================================================================= Panel D
xa, ya = axes((97.6, 682.7, 372, 955), num_axis([-2, 0, 2, 4], [-3.615, 4.385], mirror=True, ticklabelstandoff=-9),
              num_axis([-2, 0, 2, 4], [-3.686, 4.09], mirror=True))
poly(d_band_up, "#dcdcdc", xa, ya)
poly(d_band_lo, "#dcdcdc", xa, ya)
dots(d_gray + d_band_dots, GRAY, 2.8, xa, ya)
fig.add_trace(go.Scatter(x=[-3.42, 4.09], y=[-3.47, 4.08], mode="lines", line=dict(color=INK, width=1, dash="9px,6px"),
                         hoverinfo="skip", xaxis=xa, yaxis=ya))
fig.add_trace(go.Scatter(x=xs(d_blue), y=ys(d_blue), mode="markers",
                         marker=dict(color=BLUE, size=d_blue_size, line_width=0), hoverinfo="skip", xaxis=xa, yaxis=ya))
dots(d_red, RED, 11, xa, ya)
dots(d_black, INK, 10, xa, ya)
for name, lx, ly, seg in [
    ("Il4ra", 306, 695, (300.5, 703, 291.4, 740)), ("Il12rb2", 244, 706, (253.7, 716.7, 265.4, 763)),
    ("Il17rb", 168, 726.7, (193, 731.7, 249.4, 768)), ("Rorc", 234, 735, (240.7, 745, 253.7, 761.7)),
    ("Il23r", 192, 756.7, (214.7, 762.7, 240.7, 767.7)), ("Il22", 130, 764, (147.4, 769, 237.6, 776.7)),
    ("Il1r1", 168, 789, (188.6, 789, 216, 789)), ("Zbtb16", 136.6, 810, (172.6, 804.3, 203, 800.3)),
    ("Gata3", 339.5, 783, (313, 775, 303.5, 761.7)), ("Foxp3", 332.6, 826, (303.5, 814, 297.5, 801.7)),
    ("Bcl6", 309, 851.7, (286, 843.3, 262.4, 829)), ("Tbx21", 286, 878, (275.4, 868, 268.9, 843.3)),
]:
    T(lx, ly, f"<i>{name}</i>", 22)
    L(*seg, width=1.5)
T(234, 998, "CD4<sup>+</sup> T cells (Log<sub>10</sub> TPM)", 24.5)
T(50, 819, "MAIT cells (Log<sub>10</sub> TPM)", 25, angle=-90)
T(16, 697, "D", 26, bold=True)

# ================================================================= Panel E
flow_panel((484, 773, 656, 944), e_x, e_y, e_z, .5, 14.5, e_dot_x, e_dot_y,
           [490, 495, 500, 503, 506, 510, 513, 516, 520, 544, 560, 600, 640],
           [790, 830, 872, 906, 912, 918, 922, 926, 932])
R(484, 744, 656, 773, color=GATE, width=1.5)
L(544, 773, 544, 944, color=GATE, width=1.5)
L(484, 902, 656, 902, color=GATE, width=1.5)
T(570, 758, "TCRβ<sup>+</sup>", 24)
T(486, 786, "2±0.3", 24, anchor="left")
T(653, 786, "18±3", 24, anchor="right")
T(653, 933, "19±2", 24, anchor="right")
T(460, 867.5, "MR1 tetramer", 24, angle=-90)
T(485, 965, "Il23r-GFP", 24, anchor="left")
ARROW(596, 965, 655, 965)
T(454.5, 688, "E", 26, bold=True)

# ================================================================= Panel F
xa, ya = axes((813.7, 748.3, 965, 947.7), cat_axis(f_labels, range=[-.71, 3.66], tickangle=-45),
              num_axis([0, 50, 100, 150], [0, 150]))
bars(xa, ya, f_labels, f_values, f_errors, INK)
shapes.append(dict(type="line", xref="paper", yref=ya, x0=fx(813.7), x1=fx(965), y0=100, y1=100,
                   line=dict(color=INK, width=2, dash="dot"), layer="above"))
for lx, ly, txt in [(838, 780.7, "ns"), (873, 768, "ns"), (908, 782.7, "ns")]:
    T(lx, ly, txt, 22)
T(942, 899, "***", 20)
T(891, 696.7, "<i>Il23r<sup>gfp/gfp</sup></i>", 26)
T(747.7, 843, "% change vs. WT", 24, angle=-90)
T(735, 690, "F", 26, bold=True)

# ================================================================= Panel G
xa, ya = axes((1117.5, 745, 1197, 945), cat_axis(g_labels, range=[-.8, 1.66], tickangle=-45),
              num_axis([0, 1, 2, 3], [0, 3]))
bars(xa, ya, g_labels, g_values, g_errors, [INK, "#ffffff"], line=True)
L(1143.5, 759, 1175.8, 759, width=2)
T(1159.6, 757, "**", 20)
T(1159.6, 695, "MAIT cells", 26)
T(1075, 839, "Cell Number (×10<sup>3</sup>)", 24, angle=-90)
T(1054, 688, "G", 26, bold=True)

# ================================================================= Panel H
xa, ya = axes((1386, 745, 1789, 944), cat_axis(h_tissues, range=[-.487, 5.457], tickangle=-45),
              num_axis([0, 25, 50, 75, 100], [0, 100]))
for vals, errs, color, lw in [(h_dn, h_dn_err, INK, 0), (h_cd4, h_cd4_err, "#ffffff", 2),
                              (h_cd8, h_cd8_err, "#939598", 0)]:
    fig.add_trace(go.Bar(x=h_tissues, y=vals, marker=dict(color=color, line=dict(color=INK, width=lw)),
                         error_y=dict(type="data", array=errs, arrayminus=[0] * 6, symmetric=False, color=INK,
                                      thickness=2, width=3), xaxis=xa, yaxis=ya, hoverinfo="skip"))
T(1590, 695, "MAIT cells", 26)
T(1321, 839, "% of MAIT cells", 24, angle=-90)
T(1310.5, 688, "H", 26, bold=True)
R(1707, 742, 1728, 762, fill=INK, color=INK, width=0)
R(1707, 772, 1728, 794, fill="#ffffff", color=INK, width=2)
R(1707, 801, 1728, 823, fill="#939598", color="#939598", width=0)
T(1740, 752, "DN", 24, anchor="left")
T(1740, 783, "CD4<sup>+</sup>", 24, anchor="left")
T(1740, 812, "CD8<sup>+</sup>", 24, anchor="left")

# ================================================================= Panel I
xa, ya = axes((98.5, 1112.7, 444, 1457), num_axis([-10, -5, 0, 5, 10], [-11.9, 12.08], ticklabelstandoff=-9),
              num_axis([-4, 0, 4, 8], [-6.36, 8.02]))
poly(um_skin, "rgba(237,28,36,.2)", xa, ya)
poly(um_tail, "rgba(237,28,36,.14)", xa, ya)
poly(um_body, "rgba(111,151,214,.25)", xa, ya)
poly(um_hole, "#ffffff", xa, ya)
for region in (um_stem, um_top, um_branch):
    poly(region, "rgba(111,151,214,.2)", xa, ya)
poly(um_gray_left, "#dedede", xa, ya)
poly(um_gray_right, "#dedede", xa, ya)
dots(dots_skin + dots_tail + dots_skin_extra, RED, 3.6, xa, ya)
dots(dots_body + dots_stem + dots_top + dots_branch, UBLUE, 3.6, xa, ya)
dots(dots_gray, "#bdbdbd", 3.6, xa, ya)
dots(dots_red_extra, RED, 3, xa, ya)
for cy_px, col in [(1123, RED), (1147, UBLUE), (1171, "#c8c8c8")]:
    shapes.append(dict(type="circle", xref="paper", yref="paper", x0=fx(226), x1=fx(235), y0=fy(cy_px + 5),
                       y1=fy(cy_px - 5), fillcolor=col, line_width=0))
T(240, 1123, "Skin", 25, anchor="left")
T(240, 1147, "Spleen/Lung/Liver", 25, anchor="left")
T(240, 1171, "NA", 25, anchor="left")
T(269.4, 1503, "UMAP dimension 1", 25)
T(55, 1259, "UMAP dimension 2", 25, angle=-90)
T(27, 1082, "I", 26, bold=True)


# ================================================================= Panel J
def mix(level):
    t = min(1, level ** 1.5 * .95)
    a, b = (211, 211, 211), (94, 79, 162)
    return "rgb(%d,%d,%d)" % tuple(round(a[i] + (b[i] - a[i]) * t) for i in range(3))


col_left = [545, 741, 938, 1134.4, 1331, 1527]
rows = [(genes_row1, 1112.7, 1287.3, 1233, 1126.7), (genes_row2, 1308, 1483, 1429, 1322)]
regions = [(um_skin, dots_skin), (um_tail, dots_tail), (um_body, dots_body), (um_stem, dots_stem), (um_top, dots_top),
           (um_branch, dots_branch)]
for genes, top, bottom, cb_top, title_y in rows:
    for g, left in zip(genes, col_left):
        xa, ya = axes((left, top, left + 174, bottom),
                      dict(range=[-12.08, 11.97], ticks="", showticklabels=False),
                      dict(range=[-6.6, 8.85], ticks="", showticklabels=False))
        levels = gene_levels[g]
        offset = sum(ord(c) for c in g) % 5
        px, py, pv = [], [], []
        for (outline, pts), lvl in zip(regions, levels):
            poly(outline, mix(lvl), xa, ya)
            if outline is um_body:
                poly(um_hole, "#ffffff", xa, ya)
            step = max(1, round(1 / lvl))
            chosen = pts[offset % step::step]
            px += xs(chosen)
            py += ys(chosen)
            pv += [gene_cmax[g] * (.45 + .4 * lvl)] * len(chosen)
        fig.add_trace(go.Scatter(
            x=px, y=py, mode="markers", hoverinfo="skip", xaxis=xa, yaxis=ya,
            marker=dict(color=pv, cmin=0, cmax=gene_cmax[g], colorscale=FEATURE_SCALE, size=2.6, showscale=True,
                        line_width=0,
                        colorbar=dict(x=fx(left + 157), xanchor="left", y=fy(cb_top + 49), yanchor="bottom", len=49,
                                      lenmode="pixels", thickness=7, thicknessmode="pixels", xpad=0, ypad=0,
                                      tickvals=gene_ticks[g], ticks="", outlinewidth=0, borderwidth=0,
                                      tickfont=dict(family=FONT, size=15, color=INK)))))
        T(left + 87, title_y, f"<i>{g}</i>", 24)
T(1122, 1503, "UMAP dimension 1", 25)
T(502.5, 1297.5, "UMAP dimension 2", 25, angle=-90)
T(477, 1082, "J", 26, bold=True)

fig.update_layout(width=W, height=H, margin=dict(l=0, r=0, t=0, b=0, pad=0, autoexpand=False), paper_bgcolor="white",
                  plot_bgcolor="rgba(0,0,0,0)", showlegend=False, barmode="group", bargap=.2, bargroupgap=.3,
                  shapes=shapes, annotations=annots, font=dict(family=FONT, color=INK))

# Per-trace bar widths keep the spacing
bar_widths = {"x2": .67, "x3": .49, "x4": .52, "x5": .52, "x8": .665, "x9": .65}
for tr in fig.data:
    if tr.type == "bar" and tr.xaxis in bar_widths:
        tr.width = bar_widths[tr.xaxis]

fig.write_html("out.html", post_script="document.body.style.margin='0';", config={"displayModeBar": False})
